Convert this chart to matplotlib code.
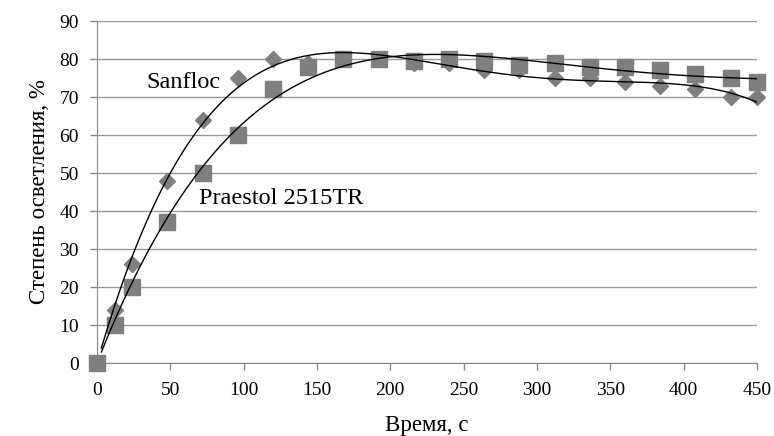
import numpy as np
import matplotlib
matplotlib.use("Agg")
import matplotlib.pyplot as plt

time_s = [0, 12, 24, 48, 72, 96, 120, 144, 168, 192, 216, 240, 264, 288, 312, 336, 360, 384, 408, 432, 450]
sanfloc = [0, 14, 26, 48, 64, 75, 80, 79, 80, 80, 79, 79, 77, 77, 75, 75, 74, 73, 72, 70, 70]
praestol = [0, 10, 20, 37, 50, 60, 72, 78, 80, 80, 79.5, 80, 79.5, 78.5, 79, 78, 78, 77, 76, 75, 74]
x_ticks = [0, 50, 100, 150, 200, 250, 300, 350, 400, 450]
y_ticks = [0, 10, 20, 30, 40, 50, 60, 70, 80, 90]

plt.rcParams['font.family'] = ['Liberation Serif', 'DejaVu Serif']

fig = plt.figure(figsize=(7.74, 4.36), dpi=100)
ax = fig.add_axes([0.1253, 0.1674, 0.978 - 0.1253, 0.9518 - 0.1674])

mcol = '#7f7f7f'
ax.plot(time_s, praestol, 's', color=mcol, markersize=11, zorder=3, clip_on=False)
ax.plot(time_s, sanfloc, 'D', color=mcol, markersize=8.5, zorder=3, clip_on=False)


def trend_zero_intercept(x, y, deg):
    # polynomial trendline with intercept fixed at 0
    x = np.asarray(x, float) / 100.0
    A = np.column_stack([x ** k for k in range(1, deg + 1)])
    coef, *_ = np.linalg.lstsq(A, np.asarray(y, float), rcond=None)
    return lambda t: sum(c * (t / 100.0) ** (k + 1) for k, c in enumerate(coef))


xx = np.linspace(3, 450, 300)
for series in (sanfloc, praestol):
    f = trend_zero_intercept(time_s, series, 4)
    ax.plot(xx, f(xx), color='black', lw=1.0, zorder=4)

ax.text(34, 73.7, 'Sanfloc', fontsize=17.5, va='center', ha='left')
ax.text(69.5, 43.2, 'Praestol 2515TR', fontsize=17.5, va='center', ha='left')

ax.set_xlim(0, 450)
ax.set_ylim(0, 90)
ax.set_xticks(x_ticks)
ax.set_yticks(y_ticks)
ax.tick_params(axis='both', labelsize=14, colors='#888888', labelcolor='black', length=5, width=1)
ax.tick_params(axis='x', pad=9)
ax.tick_params(axis='y', pad=8)
ax.grid(axis='y', color='#999999', lw=1)
ax.set_axisbelow(True)
for s in ('top', 'right'):
    ax.spines[s].set_visible(False)
for s in ('left', 'bottom'):
    ax.spines[s].set_color('#888888')
ax.set_xlabel('Время, с', fontsize=16.5, labelpad=11)
ax.set_ylabel('Степень осветления, %', fontsize=16.5, labelpad=7)

fig.savefig('out.png', dpi=100)
